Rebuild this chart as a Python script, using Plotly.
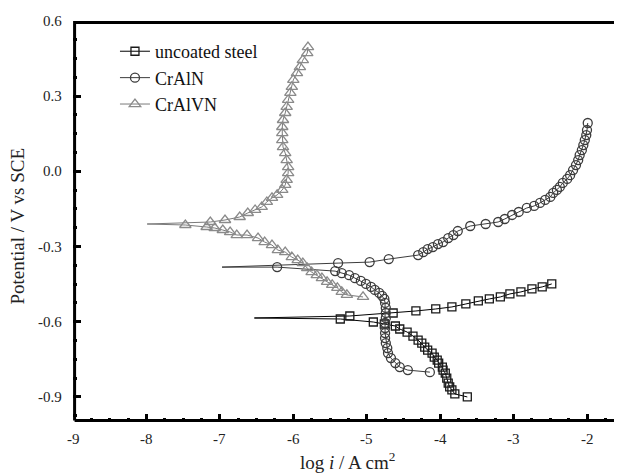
import plotly.graph_objects as go

# ---------------- data (log i / A cm^-2, potential / V vs SCE) ----------------
steel_x = [-3.63, -3.80, -3.84, -3.87, -3.89, -3.91, -3.93, -3.96, -3.97, -4.02, -4.04, -4.08,
           -4.11, -4.17, -4.21, -4.25, -4.30, -4.37, -4.45, -4.55, -4.61, -4.76, -4.91, -5.36,
           -6.53,
           -5.23, -4.64, -4.33, -4.06, -3.84, -3.65, -3.48, -3.33, -3.18, -3.05, -2.90, -2.75,
           -2.61, -2.48]
steel_y = [-0.900, -0.888, -0.872, -0.860, -0.845, -0.825, -0.805, -0.793, -0.781, -0.765, -0.753, -0.741,
           -0.725, -0.713, -0.701, -0.685, -0.673, -0.657, -0.641, -0.629, -0.617, -0.609, -0.601, -0.589,
           -0.585,
           -0.577, -0.565, -0.557, -0.549, -0.541, -0.529, -0.517, -0.509, -0.501, -0.489, -0.481, -0.469,
           -0.461, -0.449]
steel_tip = [24]   # index of the E_corr spike tip (no symbol)

craln_x = [-4.14, -4.44, -4.55, -4.61, -4.67, -4.71, -4.72, -4.74, -4.75, -4.75, -4.75, -4.75,
           -4.74, -4.74, -4.74, -4.75, -4.76, -4.79, -4.83, -4.89, -4.94, -5.01, -5.08, -5.16,
           -5.24, -5.34, -5.43, -6.22,
           -6.97,
           -5.39, -4.96, -4.70, -4.30, -4.23, -4.17, -4.10, -4.03, -3.96, -3.89, -3.82, -3.76,
           -3.59, -3.38, -3.21, -3.12, -3.02, -2.93, -2.82, -2.72, -2.64, -2.57, -2.50, -2.46,
           -2.41, -2.37, -2.33, -2.27, -2.23, -2.19, -2.15, -2.12, -2.10, -2.07, -2.05, -2.03,
           -2.01, -2.00, -1.99]
craln_y = [-0.801, -0.793, -0.781, -0.765, -0.745, -0.725, -0.705, -0.685, -0.665, -0.645, -0.625, -0.605,
           -0.585, -0.565, -0.545, -0.525, -0.509, -0.497, -0.485, -0.473, -0.461, -0.449, -0.437, -0.426,
           -0.414, -0.406, -0.398, -0.382,
           -0.382,
           -0.366, -0.362, -0.350, -0.334, -0.322, -0.310, -0.302, -0.290, -0.282, -0.266, -0.254, -0.238,
           -0.218, -0.210, -0.202, -0.190, -0.174, -0.162, -0.146, -0.138, -0.126, -0.114, -0.102, -0.086,
           -0.074, -0.062, -0.046, -0.030, -0.015, 0.005, 0.025, 0.045, 0.065, 0.085, 0.105, 0.125,
           0.145, 0.165, 0.193]
craln_tip = [28]

cralvn_x = [-5.05, -5.27, -5.34, -5.40, -5.47, -5.54, -5.61, -5.68, -5.75, -5.81, -5.87, -5.94,
            -6.02, -6.11, -6.21, -6.29, -6.39, -6.48, -6.63, -6.77, -6.86, -6.96, -7.07, -7.18,
            -7.47,
            -7.99,
            -7.13, -6.93, -6.73, -6.62, -6.52, -6.43, -6.36, -6.29, -6.22, -6.15, -6.11, -6.09,
            -6.07, -6.07, -6.09, -6.11, -6.14, -6.15, -6.15, -6.15, -6.14, -6.11, -6.09, -6.07,
            -6.04, -6.02, -6.00, -5.95, -5.91, -5.87, -5.81, -5.80]
cralvn_y = [-0.501, -0.493, -0.481, -0.465, -0.453, -0.441, -0.426, -0.414, -0.402, -0.386, -0.366, -0.354,
            -0.342, -0.322, -0.314, -0.294, -0.282, -0.266, -0.254, -0.254, -0.242, -0.234, -0.226, -0.222,
            -0.214,
            -0.210,
            -0.202, -0.194, -0.182, -0.166, -0.154, -0.142, -0.122, -0.106, -0.094, -0.074, -0.054, -0.034,
            -0.007, 0.017, 0.045, 0.073, 0.097, 0.125, 0.153, 0.177, 0.205, 0.233, 0.257, 0.285,
            0.313, 0.337, 0.365, 0.392, 0.416, 0.444, 0.472, 0.496]
cralvn_tip = [25]

series_names = ["uncoated steel", "CrAlN", "CrAlVN"]

x_ticks = [-9, -8, -7, -6, -5, -4, -3, -2]
x_ticklabels = ["-9", "-8", "-7", "-6", "-5", "-4", "-3", "-2"]
y_ticks = [-0.9, -0.6, -0.3, 0.0, 0.3, 0.6]
y_ticklabels = ["-0.9", "-0.6", "-0.3", "0.0", "0.3", "0.6"]
x_title = "log <i>i</i> / A cm<sup>2</sup>"
y_title = "Potential / V vs SCE"
x_range = [-9, -1.537]
y_range = [-1.0, 0.6]
x_major_step = 1
y_major_step = 0.3
x_minor_step = 0.25
y_minor_step = 0.075

# ---------------- styling ----------------
FONT = "Liberation Serif"
PLOT_W, PLOT_H = 548, 401
styles = [
    dict(symbol="square-open", size=8, color="#1a1a1a", line="#000000"),
    dict(symbol="circle-open", size=9, color="#3c3c3c", line="#3c3c3c"),
    dict(symbol="triangle-up-open", size=10, color="#8a8a8a", line="#7a7a7a"),
]
datasets = [(steel_x, steel_y, steel_tip), (craln_x, craln_y, craln_tip), (cralvn_x, cralvn_y, cralvn_tip)]

fig = go.Figure()
for (xs, ys, tips), st in zip(datasets, styles):
    sizes = [0 if i in tips else st["size"] for i in range(len(xs))]
    op = [0 if i in tips else 1 for i in range(len(xs))]
    fig.add_trace(go.Scatter(
        x=xs, y=ys, mode="lines+markers", showlegend=False,
        line=dict(color=st["line"], width=1),
        marker=dict(symbol=st["symbol"], size=sizes, opacity=op, color=st["color"],
                    line=dict(width=1.3, color=st["color"])),
    ))
for st, name in zip(styles, series_names):
    fig.add_trace(go.Scatter(
        x=[None], y=[None], mode="lines+markers", name=name,
        line=dict(color=st["line"], width=1),
        marker=dict(symbol=st["symbol"], size=st["size"], color=st["color"],
                    line=dict(width=1.3, color=st["color"])),
    ))
# carriers for the tick overlay axes
fig.add_trace(go.Scatter(x=[None], y=[None], xaxis="x2", yaxis="y2", showlegend=False, hoverinfo="skip"))
fig.add_trace(go.Scatter(x=[None], y=[None], xaxis="x3", yaxis="y3", showlegend=False, hoverinfo="skip"))
# plot frame drawn in a unit-box overlay (axes normalised 0..1)
fig.add_trace(go.Scatter(x=[0, 1, 1, 0, 0], y=[0, 0, 1, 1, 0], xaxis="x4", yaxis="y4",
                         mode="lines", line=dict(color="black", width=3),
                         showlegend=False, hoverinfo="skip"))

annotations = []
for v, t in zip(x_ticks, x_ticklabels):
    annotations.append(dict(x=v, xref="x", y=0, yref="paper", text=t, showarrow=False,
                            xanchor="center", yanchor="top", yshift=-7,
                            font=dict(family=FONT, size=15, color="#222222")))
for v, t in zip(y_ticks, y_ticklabels):
    annotations.append(dict(x=0, xref="paper", y=v, yref="y", text=t, showarrow=False,
                            xanchor="right", yanchor="middle", xshift=-9,
                            font=dict(family=FONT, size=15, color="#222222")))
annotations.append(dict(x=0.5, xref="paper", y=0, yref="paper", text=x_title, showarrow=False,
                        xanchor="center", yanchor="top", yshift=-25,
                        font=dict(family=FONT, size=19, color="#222222")))
annotations.append(dict(x=0, xref="paper", y=0.5, yref="paper", text=y_title, showarrow=False,
                        textangle=-90, xanchor="center", yanchor="middle", xshift=-56, yshift=-5,
                        font=dict(family=FONT, size=19, color="#222222")))


def tick_axis(over, side, rng, tick0, dtick, length, anchor):
    return dict(overlaying=over, anchor=anchor, side=side, range=rng,
                tickmode="linear", tick0=tick0, dtick=dtick,
                ticks="inside", ticklen=length, tickwidth=3, tickcolor="black",
                showticklabels=False, showline=False, showgrid=False, zeroline=False,
                automargin=False)


pad_x = 1.6 / PLOT_W
pad_y = 1.6 / PLOT_H
fig.update_layout(
    width=614, height=466,
    margin=dict(l=65, r=1, t=13, b=52, autoexpand=False),
    font=dict(family=FONT, size=15, color="#222222"),
    paper_bgcolor="white", plot_bgcolor="white",
    showlegend=True,
    xaxis=dict(range=x_range, showticklabels=False, ticks="", showline=False,
               showgrid=False, zeroline=False, automargin=False),
    yaxis=dict(range=y_range, showticklabels=False, ticks="", showline=False,
               showgrid=False, zeroline=False, automargin=False),
    xaxis2=tick_axis("x", "bottom", x_range, x_range[0], x_minor_step, 4, "y"),
    yaxis2=tick_axis("y", "left", y_range, 0, y_minor_step, 4, "x"),
    xaxis3=tick_axis("x", "bottom", x_range, x_range[0], x_major_step, 8, "y"),
    yaxis3=tick_axis("y", "left", y_range, 0, y_major_step, 8, "x"),
    xaxis4=dict(overlaying="x", anchor="y", range=[-pad_x, 1 + pad_x], visible=False),
    yaxis4=dict(overlaying="y", anchor="x", range=[-pad_y, 1 + pad_y], visible=False),
    annotations=annotations,
    legend=dict(x=0.0766, y=0.970, xanchor="left", yanchor="top",
                bgcolor="rgba(0,0,0,0)", font=dict(family=FONT, size=18, color="#111111"),
                itemwidth=30, tracegroupgap=0),
)
fig.write_html("out.html")
